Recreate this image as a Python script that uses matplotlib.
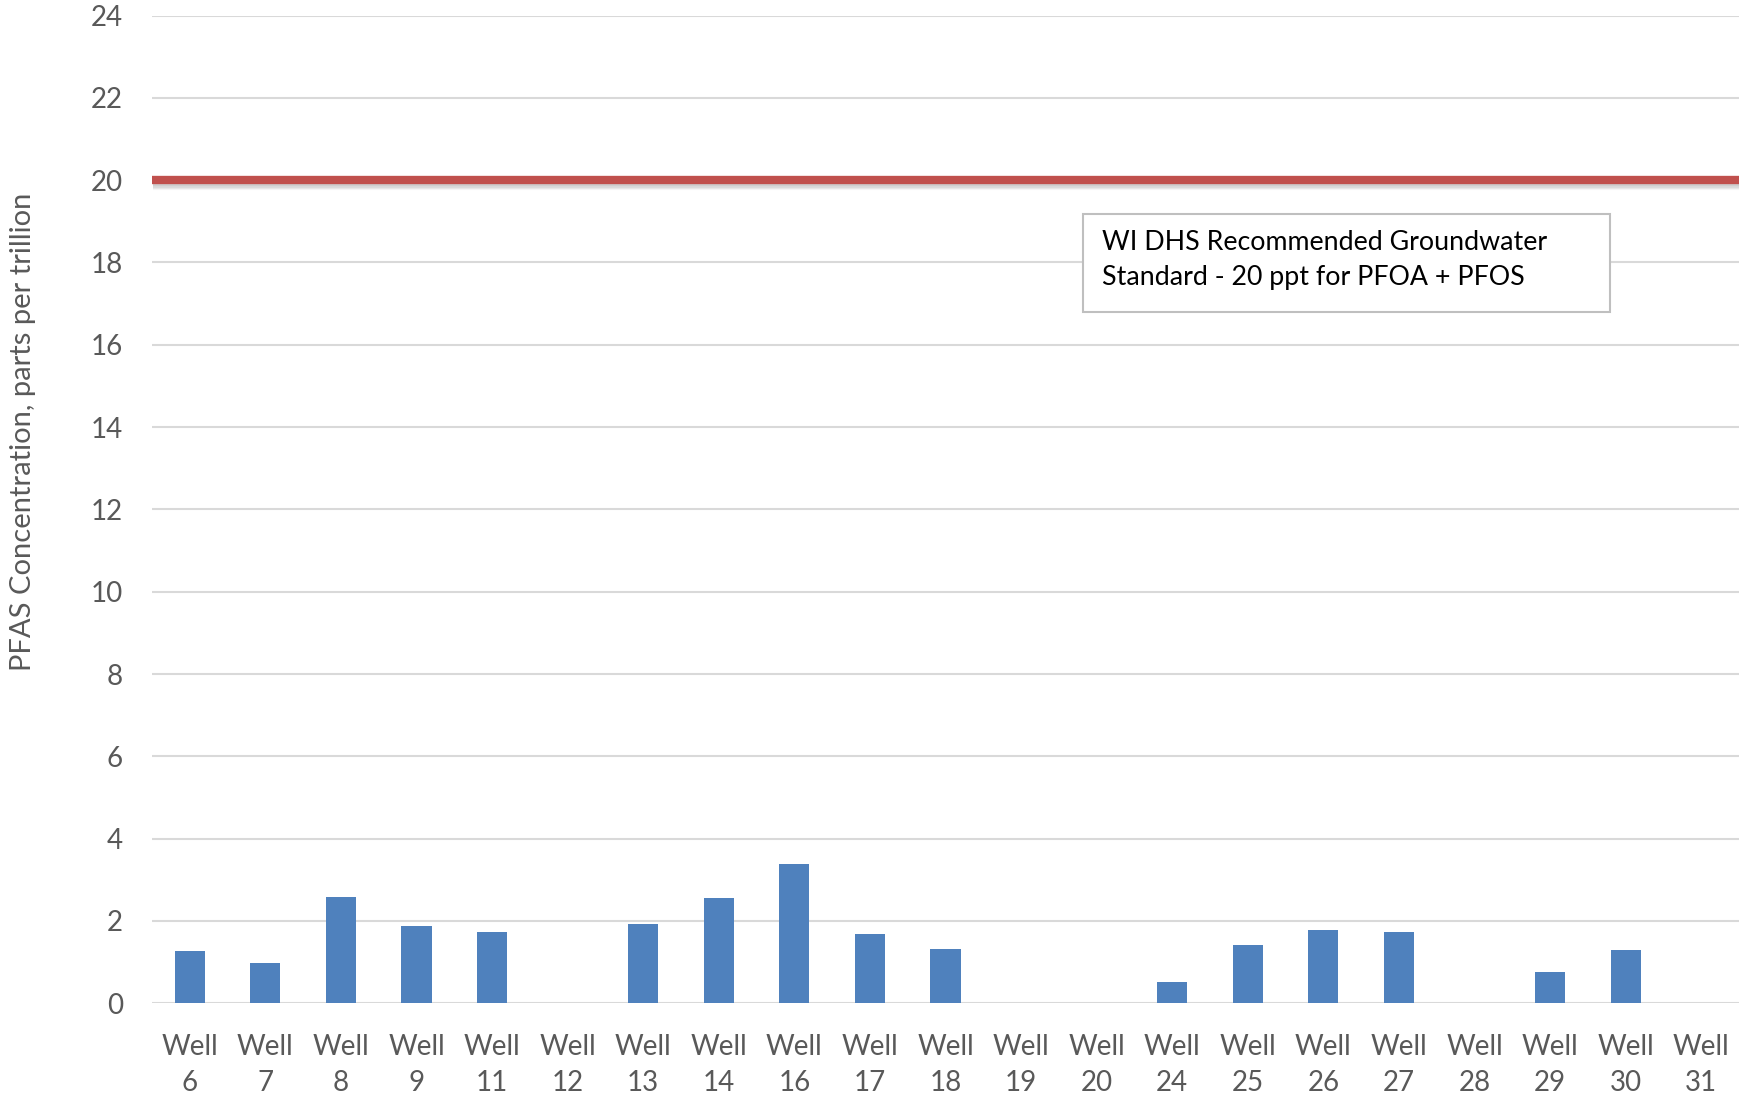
import matplotlib
matplotlib.use('Agg')
import numpy as np
import matplotlib.pyplot as plt
import matplotlib.patheffects as pe
from matplotlib.patches import Rectangle

plt.rcParams['font.family'] = ['Lato', 'DejaVu Sans']

# data
wells = ['6', '7', '8', '9', '11', '12', '13', '14', '16', '17', '18',
         '19', '20', '24', '25', '26', '27', '28', '29', '30', '31']
pfas = [1.28, 0.98, 2.58, 1.87, 1.73, 0, 1.92, 2.55, 3.38, 1.69, 1.32,
        0, 0, 0.51, 1.42, 1.77, 1.73, 0, 0.76, 1.29, 0]
standard = 20
y_ticks = list(range(0, 25, 2))
note = 'WI DHS Recommended Groundwater\nStandard - 20 ppt for PFOA + PFOS'

W, H = 1739, 1098
fig = plt.figure(figsize=(W / 100, H / 100), dpi=100)
ax = fig.add_axes([152 / W, 1 - 1003.3 / H, 1 - 152 / W, (1003.3 - 15.5) / H])

x = np.arange(len(wells))
ax.bar(x, pfas, width=0.40, color='#4F81BD', zorder=3)

# soft drop shadow under the standard line
shadow = [pe.SimpleLineShadow(offset=(0.5, -d), shadow_color='#000000', alpha=a)
          for d, a in [(1.5, 0.06), (2.5, 0.06), (3.5, 0.05), (4.5, 0.03)]]
ax.axhline(standard, color='#C0504D', lw=6, zorder=4, solid_capstyle='butt',
           path_effects=shadow + [pe.Normal()])

ax.set_xlim(-0.5, len(wells) - 0.5)
ax.set_ylim(0, 24)
ax.set_yticks(y_ticks)
ax.set_xticks(x)
ax.set_xticklabels(['Well\n' + w for w in wells], linespacing=1.5)
ax.grid(axis='y', color='#D9D9D9', lw=1.5, zorder=0)
ax.axhline(0, color='#D9D9D9', lw=2, zorder=2)
for s in ax.spines.values():
    s.set_visible(False)
ax.tick_params(axis='both', length=0, labelsize=20, labelcolor='#595959')
ax.tick_params(axis='y', pad=21)
ax.tick_params(axis='x', pad=22)

fig.text(23 / W, 1 - 432 / H, 'PFAS Concentration, parts per trillion',
         rotation=90, ha='center', va='center', fontsize=21, color='#595959')

fig.patches.append(Rectangle((1083 / W, 1 - 312 / H), 527 / W, 98 / H,
                             transform=fig.transFigure, facecolor='white',
                             edgecolor='#BFBFBF', lw=1.5, zorder=5))
fig.text(1102 / W, 1 - 260 / H, note, ha='left', va='center', fontsize=19.3,
         color='#000000', linespacing=1.55, zorder=6)

plt.savefig('out.png', dpi=100)
plt.close()
